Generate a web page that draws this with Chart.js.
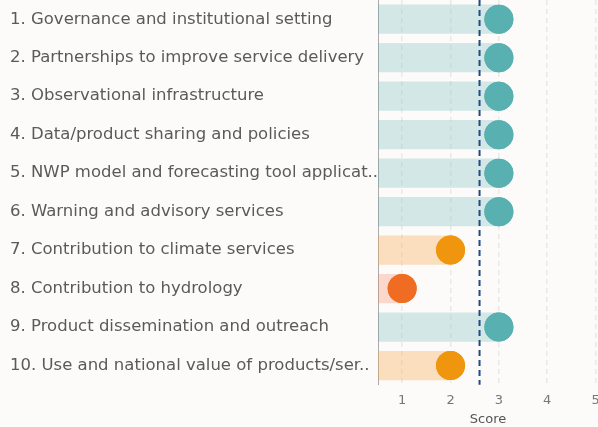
<!DOCTYPE html>
<html>
<head>
<meta charset="utf-8">
<script src="https://cdn.jsdelivr.net/npm/chart.js@4/dist/chart.umd.min.js"></script>
<style>
    html, body { margin: 0; padding: 0; background: #fcfbf9; overflow: hidden; }
    #wrap { position: relative; width: 598px; height: 427px; }
</style>
</head>
<body>
<div id="wrap"><canvas id="chart"></canvas></div>
<script>
const categories = [
    '1. Governance and institutional setting',
    '2. Partnerships to improve service delivery',
    '3. Observational infrastructure',
    '4. Data/product sharing and policies',
    '5. NWP model and forecasting tool applicat..',
    '6. Warning and advisory services',
    '7. Contribution to climate services',
    '8. Contribution to hydrology',
    '9. Product dissemination and outreach',
    '10. Use and national value of products/ser..'
];
const scores = [3, 3, 3, 3, 3, 3, 2, 1, 3, 2];
const xTicks = [1, 2, 3, 4, 5];

const meanScore = scores.reduce((a, b) => a + b, 0) / scores.length;
const fontFamily = "'DejaVu Sans', sans-serif";

function dotColor(v) {
    if (v >= 3) return '#58b0b0';
    if (v >= 2) return '#f0960e';
    return '#f06c22';
}
function barColor(v) {
    if (v >= 3) return 'rgba(88, 176, 176, 0.25)';
    if (v >= 2) return 'rgba(246, 170, 80, 0.35)';
    return 'rgba(244, 140, 100, 0.3)';
}

// dashed line at the average score
const meanLine = {
    id: 'meanLine',
    afterDatasetsDraw(chart) {
        const { ctx, chartArea, scales } = chart;
        const x = scales.x.getPixelForValue(meanScore);
        ctx.save();
        ctx.strokeStyle = '#1f4a86';
        ctx.lineWidth = 2;
        ctx.setLineDash([6, 4]);
        ctx.beginPath();
        ctx.moveTo(x, chartArea.top);
        ctx.lineTo(x, chartArea.bottom);
        ctx.stroke();
        ctx.restore();
        // dots go over the line
        chart.getDatasetMeta(1).data.forEach(el => el.draw(ctx));
    }
};

new Chart(document.getElementById('chart'), {
    type: 'bar',
    data: {
        labels: categories,
        datasets: [
            {
                type: 'bar',
                data: scores,
                backgroundColor: scores.map(barColor),
                borderWidth: 0,
                categoryPercentage: 0.76,
                barPercentage: 1,
                order: 2
            },
            {
                type: 'line',
                data: scores,
                showLine: false,
                pointRadius: 14.5,
                pointHoverRadius: 14.5,
                pointBorderWidth: 0,
                pointBackgroundColor: scores.map(dotColor),
                clip: false,
                order: 1
            }
        ]
    },
    options: {
        indexAxis: 'y',
        responsive: true,
        maintainAspectRatio: false,
        animation: false,
        layout: { autoPadding: false, padding: { left: 10, top: 0, right: 0, bottom: 0 } },
        plugins: {
            legend: { display: false },
            tooltip: { enabled: false }
        },
        scales: {
            x: {
                min: 0.5,
                max: 5.05,
                afterBuildTicks: axis => { axis.ticks = xTicks.map(v => ({ value: v })); },
                afterFit: axis => { axis.paddingLeft = 0; axis.paddingRight = 0; },
                ticks: {
                    color: '#777',
                    font: { family: fontFamily, size: 13 },
                    padding: 8
                },
                grid: {
                    color: 'rgba(0, 0, 0, 0.07)',
                    lineWidth: 1.5,
                    drawTicks: false
                },
                border: { display: false, dash: [5, 4] },
                title: {
                    display: true,
                    text: 'Score',
                    color: '#555',
                    font: { family: fontFamily, size: 13 },
                    padding: { top: -5, bottom: 0 }
                }
            },
            y: {
                afterFit: axis => { axis.width = 368; axis.paddingTop = 0; axis.paddingBottom = 0; },
                ticks: {
                    crossAlign: 'far',
                    color: '#5a5a5a',
                    font: { family: fontFamily, size: 16.5 }
                },
                grid: { display: false, drawTicks: false },
                border: { display: true, color: '#aaa', width: 1 }
            }
        }
    },
    plugins: [meanLine]
});
</script>
</body>
</html>
